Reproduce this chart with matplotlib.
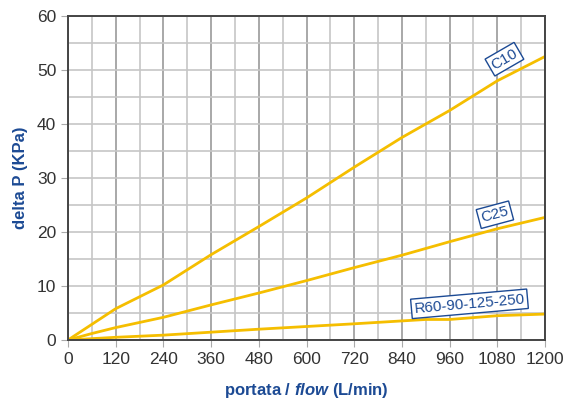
import matplotlib
matplotlib.use("Agg")
import matplotlib.pyplot as plt
import numpy as np

plt.rcParams['font.family'] = ['Liberation Sans', 'DejaVu Sans']
plt.rcParams['mathtext.fontset'] = 'custom'
plt.rcParams['mathtext.bfit'] = 'Liberation Sans:bold:italic'

flow = [0, 60, 120, 240, 360, 480, 600, 720, 840, 960, 1080, 1200]
c10 = [0, 2.9, 5.8, 10.2, 15.8, 21.0, 26.3, 32.0, 37.5, 42.5, 48.0, 52.5]
c25 = [0, 1.2, 2.3, 4.2, 6.5, 8.7, 11.0, 13.4, 15.7, 18.2, 20.6, 22.7]
flow_r = [0, 120, 240, 480, 720, 900, 960, 1080, 1200]
r60 = [0, 0.5, 0.9, 2.0, 3.0, 3.8, 3.8, 4.5, 4.8]

labels = ["C10", "C25", "R60-90-125-250"]
label_pos = [(1098, 52.0, 30), (1074, 23.2, 15), (1010, 6.7, 5)]

yellow = "#F5BE00"
blue = "#1C4A94"

fig = plt.figure(figsize=(5.72, 4.0), dpi=100)
ax = fig.add_axes([68/572, 60/400, 477/572, 324/400])
ax.plot(flow, c10, color=yellow, lw=2)
ax.plot(flow, c25, color=yellow, lw=2)
ax.plot(flow_r, r60, color=yellow, lw=2)

for lab, (x, y, rot) in zip(labels, label_pos):
    ax.text(x, y, lab, rotation=rot, ha="center", va="center", color=blue, fontsize=11,
            rotation_mode="anchor",
            bbox=dict(boxstyle="square,pad=0.18", fc="white", ec=blue, lw=1))

ax.set_xlim(0, 1200)
ax.set_ylim(0, 60)
ax.set_xticks(np.arange(0, 1201, 120))
ax.set_yticks(np.arange(0, 61, 10))
ax.set_xticks(np.arange(0, 1201, 60), minor=True)
ax.set_yticks(np.arange(0, 61, 5), minor=True)
ax.grid(True, which="minor", color="#C6C6C6", lw=1.2)
ax.grid(True, which="major", axis="x", color="#999999", lw=1.2)
ax.grid(True, which="major", axis="y", color="#C6C6C6", lw=1.2)
ax.tick_params(which="minor", length=0)
ax.tick_params(which="major", length=5, color="#AAAAAA", labelsize=12.5, labelcolor="#333333", direction="out")
for s in ax.spines.values():
    s.set_color("#444444")
    s.set_linewidth(1.4)
ax.set_axisbelow(True)

ax.set_ylabel("delta P (KPa)", color=blue, fontsize=12, fontweight="bold", labelpad=6)
ax.set_xlabel(r"portata / $\bfit{flow}$ (L/min)", color=blue, fontsize=12, fontweight="bold", labelpad=10)

fig.savefig("out.png", dpi=100)
